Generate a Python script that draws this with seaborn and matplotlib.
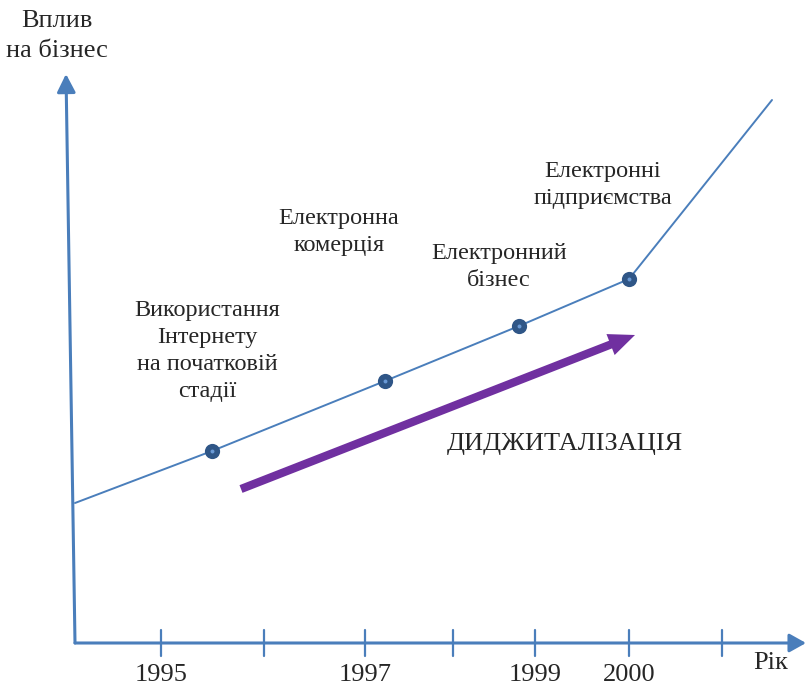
import matplotlib
matplotlib.use('Agg')
import matplotlib.pyplot as plt
import seaborn as sns
import pandas as pd

# schematic: x = position along the time axis, y = impact on business
stage_x = [137, 310, 444, 554]
stage_y = [192, 262, 317, 364]
stage_names = ['Використання\nІнтернету\nна початковій\nстадії',
               'Електронна\nкомерція',
               'Електронний\nбізнес',
               'Електронні\nпідприємства']
line_x = [0] + stage_x + [697]
line_y = [140] + stage_y + [543]

tick_x = [86, 189, 290, 378, 460, 554, 647]
tick_labels = ['1995', '', '1997', '', '1999', '2000', '']

trend_start = (166, 154)
trend_end = (560, 308)

blue = '#4a7ebb'
purple = '#7030a0'
fs = 19

sns.set_theme(style='white')
plt.rcParams['font.family'] = ['Liberation Serif', 'DejaVu Serif']

fig = plt.figure(figsize=(8.06, 6.87), dpi=100)
ax = fig.add_axes([0, 0, 1, 1])
ax.set_xlim(-75, 731)
ax.set_ylim(-44, 643)
ax.axis('off')

# axes with arrows
ax.annotate('', xy=(-9, 569), xytext=(0, 0),
            arrowprops=dict(arrowstyle='-|>,head_length=0.55,head_width=0.28',
                            color=blue, lw=2.2, mutation_scale=20,
                            shrinkA=0, shrinkB=0))
ax.annotate('', xy=(731, 0), xytext=(0, 0),
            arrowprops=dict(arrowstyle='-|>,head_length=0.5,head_width=0.28',
                            color=blue, lw=2.2, mutation_scale=20,
                            shrinkA=0, shrinkB=0))
for x, lab in zip(tick_x, tick_labels):
    ax.plot([x, x], [-13, 13], color=blue, lw=1.6)
    if lab:
        ax.text(x, -32, lab, ha='center', va='center', fontsize=fs)

ax.text(-18, 607, 'Вплив\nна бізнес', ha='center', va='center',
        fontsize=fs, linespacing=1.45)
ax.text(696, -20, 'Рік', ha='center', va='center', fontsize=fs)

# main line and stage points
df = pd.DataFrame({'x': line_x, 'y': line_y})
sns.lineplot(data=df, x='x', y='y', ax=ax, color=blue, lw=1.4,
             sort=False, estimator=None)
pts = pd.DataFrame({'x': stage_x, 'y': stage_y})
sns.scatterplot(data=pts, x='x', y='y', ax=ax, color='#2f5687', s=120,
                linewidth=0, zorder=5)
sns.scatterplot(data=pts, x='x', y='y', ax=ax, color='#6a9ad6', s=8,
                linewidth=0, zorder=6)
ax.set_xlabel('')
ax.set_ylabel('')

label_pos = [(207 - 75, 643 - 351), (339 - 75, 643 - 232),
             (499 - 75, 643 - 267), (603 - 75, 643 - 185)]
for (lx, ly), name in zip(label_pos, stage_names):
    ax.text(lx, ly, name, ha='center', va='center', fontsize=17.5,
            linespacing=1.36)

# digitalisation trend arrow
ax.annotate('', xy=trend_end, xytext=trend_start,
            arrowprops=dict(arrowstyle='simple,head_length=1.05,head_width=0.9,tail_width=0.33',
                            color=purple, lw=0, mutation_scale=18,
                            shrinkA=0, shrinkB=0))
ax.text(490, 199, 'ДИДЖИТАЛІЗАЦІЯ', ha='center', va='center', fontsize=fs)

fig.savefig('out.png', dpi=100)
